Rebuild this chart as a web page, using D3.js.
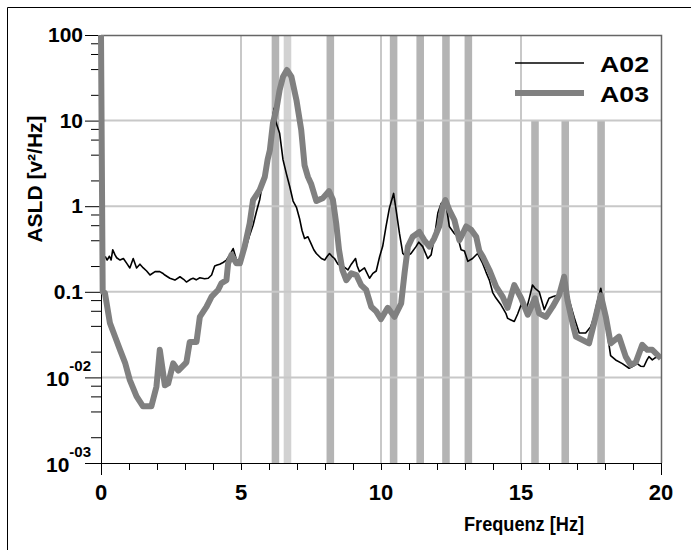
<!DOCTYPE html>
<html>
<head>
<meta charset="utf-8">
<script src="https://cdn.jsdelivr.net/npm/d3@7"></script>
<style>
  body { margin: 0; background: #fff; }
  text { font-family: "Liberation Sans", Arial, sans-serif; font-weight: bold; fill: #000; }
</style>
</head>
<body>
<svg width="691" height="550"></svg>
<script>
// A02 (thin black)
var freqA02 = [0.15,0.22,0.3,0.36,0.42,0.5,0.56,0.68,0.8,0.92,1.03,1.15,1.27,1.39,1.51,1.63,1.75,1.93,2.1,2.2,2.28,2.46,2.64,2.82,2.95,3.05,3.2,3.29,3.4,3.53,3.7,3.83,3.95,4.06,4.15,4.24,4.36,4.48,4.6,4.72,4.84,4.96,5.07,5.18,5.3,5.43,5.55,5.67,5.75,5.85,5.97,6.08,6.18,6.26,6.38,6.5,6.62,6.74,6.86,6.98,7.09,7.18,7.27,7.39,7.51,7.6,7.69,7.87,7.99,8.08,8.16,8.25,8.34,8.46,8.64,8.82,8.94,9.09,9.15,9.23,9.41,9.59,9.71,9.83,9.95,10.06,10.18,10.3,10.45,10.54,10.66,10.78,10.9,11.07,11.25,11.35,11.49,11.67,11.79,11.91,12.03,12.15,12.3,12.44,12.62,12.74,12.86,12.98,13.1,13.27,13.45,13.63,13.75,13.87,13.99,14.1,14.29,14.46,14.52,14.76,14.88,15.0,15.1,15.18,15.3,15.41,15.5,15.65,15.83,16.0,16.15,16.3,16.42,16.54,16.62,16.72,16.9,17.08,17.31,17.49,17.6,17.72,17.85,17.95,18.03,18.1,18.2,18.38,18.62,18.86,19.0,19.15,19.27,19.39,19.5,19.57,19.69,19.8,19.93,20.0];
var valA02 = [0.26,0.235,0.26,0.235,0.31,0.27,0.25,0.235,0.245,0.215,0.19,0.245,0.19,0.21,0.19,0.175,0.157,0.172,0.172,0.165,0.157,0.144,0.137,0.15,0.14,0.13,0.14,0.144,0.138,0.146,0.142,0.144,0.157,0.2,0.205,0.21,0.22,0.235,0.27,0.32,0.235,0.24,0.257,0.33,0.45,0.6,0.86,1.2,1.7,2.6,4.1,7.8,13.9,9.3,7.1,3.5,2.4,1.7,1.15,0.97,0.72,0.52,0.42,0.44,0.36,0.31,0.28,0.245,0.235,0.26,0.28,0.26,0.245,0.21,0.2,0.18,0.21,0.245,0.2,0.172,0.19,0.144,0.164,0.175,0.257,0.34,0.58,0.95,1.41,0.9,0.48,0.28,0.257,0.28,0.337,0.38,0.337,0.245,0.27,0.44,0.83,1.08,1.18,0.58,0.48,0.44,0.31,0.3,0.227,0.245,0.28,0.215,0.17,0.137,0.098,0.085,0.07,0.056,0.049,0.045,0.055,0.07,0.065,0.06,0.085,0.12,0.11,0.1,0.062,0.084,0.088,0.091,0.1,0.137,0.1,0.08,0.05,0.033,0.033,0.039,0.05,0.075,0.11,0.075,0.051,0.03,0.018,0.016,0.0145,0.0128,0.0135,0.0145,0.0135,0.0134,0.016,0.0175,0.016,0.017,0.0175,0.017];

// A03 (thick grey)
var freqA03 = [0,0.06,0.14,0.32,0.5,0.68,0.86,1.03,1.27,1.5,1.8,1.98,2.1,2.28,2.4,2.58,2.76,3.05,3.17,3.41,3.53,3.77,3.95,4.18,4.3,4.48,4.54,4.66,4.84,4.96,5.13,5.31,5.43,5.67,5.85,5.95,6.03,6.14,6.26,6.38,6.5,6.64,6.8,6.98,7.15,7.27,7.39,7.51,7.69,7.93,8.14,8.28,8.4,8.5,8.62,8.76,8.94,9.12,9.29,9.47,9.65,9.83,10.0,10.24,10.48,10.72,10.84,10.96,11.13,11.37,11.55,11.73,11.9,12.08,12.2,12.3,12.44,12.62,12.8,12.92,13.04,13.22,13.4,13.51,13.63,13.87,14.11,14.34,14.52,14.76,15.0,15.24,15.5,15.65,15.89,16.13,16.36,16.54,16.66,16.84,16.96,17.43,17.61,17.85,18.03,18.2,18.5,18.74,18.92,19.1,19.33,19.51,19.69,20.0];
var valA03 = [100,0.1,0.097,0.043,0.03,0.021,0.0148,0.0093,0.006,0.0046,0.0046,0.0078,0.021,0.0081,0.0085,0.0146,0.012,0.015,0.026,0.026,0.051,0.067,0.088,0.105,0.126,0.137,0.215,0.27,0.215,0.215,0.337,0.63,1.18,1.55,2.2,3.5,4.5,9.3,13.3,22.7,32.6,39,32.6,17.4,7.8,3.0,2.2,1.8,1.15,1.25,1.5,1.2,0.63,0.31,0.18,0.137,0.164,0.157,0.12,0.105,0.067,0.059,0.048,0.065,0.051,0.073,0.164,0.337,0.44,0.5,0.4,0.337,0.42,0.58,0.99,1.18,0.9,0.69,0.4,0.48,0.58,0.53,0.44,0.3,0.26,0.18,0.115,0.088,0.065,0.12,0.085,0.054,0.084,0.056,0.051,0.067,0.091,0.15,0.08,0.043,0.03,0.025,0.043,0.091,0.051,0.025,0.03,0.0175,0.014,0.015,0.024,0.021,0.021,0.0167];

// marked frequencies (vertical bands)
var bandFreqs = [6.23, 6.66, 8.19, 10.45, 11.4, 12.32, 13.12, 15.5, 16.58, 17.86];
var bandLight = [false, true, false, false, false, false, false, false, false, false];
var bandFromTen = [false, false, false, false, false, false, false, true, true, true];
var bandWidth = 0.27;

var xMajor = [0, 5, 10, 15, 20];
var yMajor = [100, 10, 1, 0.1, 0.01, 0.001];
var yLabels = [["100", ""], ["10", ""], ["1", ""], ["0.1", ""], ["10", "-02"], ["10", "-03"]];

var svg = d3.select("svg");
var pLeft = 101, pRight = 661, pTop = 35, pBottom = 463;

var x = d3.scaleLinear().domain([0, 20]).range([pLeft, pRight]);
var y = d3.scaleLog().domain([0.001, 100]).range([pBottom, pTop]);

// outer frame (only top/left visible)
svg.append("line").attr("x1", 7.5).attr("x2", 691).attr("y1", 7.5).attr("y2", 7.5).attr("stroke", "#000");
svg.append("line").attr("x1", 7.5).attr("x2", 7.5).attr("y1", 7.5).attr("y2", 550).attr("stroke", "#000");

svg.append("defs").append("clipPath").attr("id", "plot")
  .append("rect").attr("x", pLeft - 6).attr("y", pTop).attr("width", pRight - pLeft + 6).attr("height", pBottom - pTop);

// bands
svg.append("g").selectAll("rect")
  .data(bandFreqs)
  .enter().append("rect")
    .attr("x", function(d) { return x(d - bandWidth / 2); })
    .attr("width", function(d) { return x(d + bandWidth / 2) - x(d - bandWidth / 2); })
    .attr("y", function(d, i) { return bandFromTen[i] ? y(10) : pTop; })
    .attr("height", function(d, i) { return pBottom - (bandFromTen[i] ? y(10) : pTop); })
    .attr("fill", function(d, i) { return bandLight[i] ? "#d2d2d2" : "#b4b4b4"; });

// grid
var grid = svg.append("g").attr("stroke", "#c8c8c8").attr("stroke-width", 2);
grid.selectAll(".gx").data([5, 10, 15]).enter().append("line")
  .attr("x1", function(d) { return x(d); }).attr("x2", function(d) { return x(d); })
  .attr("y1", pTop).attr("y2", pBottom);
grid.selectAll(".gy").data([10, 1, 0.1, 0.01]).enter().append("line")
  .attr("y1", function(d) { return y(d); }).attr("y2", function(d) { return y(d); })
  .attr("x1", pLeft).attr("x2", pRight);

// plot border top/right
svg.append("path")
  .attr("d", "M" + pLeft + "," + (pTop + 0.5) + "H" + (pRight + 0.5) + "V" + pBottom)
  .attr("fill", "none").attr("stroke", "#666").attr("stroke-width", 1.5);

// x axis
var xMinor = d3.range(0, 21).filter(function(d) { return d % 20 !== 0; });
svg.append("g")
  .attr("transform", "translate(0," + pBottom + ")")
  .call(d3.axisBottom(x).tickValues(xMinor).tickSize(7).tickFormat("").tickSizeOuter(0))
  .call(function(a) { a.select(".domain").remove(); a.selectAll("line").attr("stroke", "#000"); });
svg.append("g")
  .attr("transform", "translate(0," + pBottom + ")")
  .call(d3.axisBottom(x).tickValues([0, 20]).tickSize(12).tickFormat("").tickSizeOuter(0))
  .call(function(a) { a.select(".domain").attr("stroke", "#000"); a.selectAll("line").attr("stroke", "#000"); });
svg.append("g").selectAll("text")
  .data(xMajor)
  .enter().append("text")
    .attr("x", function(d) { return x(d); })
    .attr("y", 500)
    .attr("text-anchor", "middle")
    .style("font-size", "22px")
    .text(function(d) { return d; });

// y axis
var yMinor = [];
[0.001, 0.01, 0.1, 1, 10].forEach(function(dec) {
  [2, 4, 6, 8].forEach(function(m) { yMinor.push(dec * m); });
});
svg.append("g")
  .attr("transform", "translate(" + pLeft + ",0)")
  .call(d3.axisLeft(y).tickValues(yMinor).tickSize(10).tickFormat("").tickSizeOuter(0))
  .call(function(a) { a.select(".domain").remove(); a.selectAll("line").attr("stroke", "#000"); });
svg.append("g")
  .attr("transform", "translate(" + pLeft + ",0)")
  .call(d3.axisLeft(y).tickValues(yMajor).tickSize(16).tickFormat("").tickSizeOuter(0))
  .call(function(a) { a.select(".domain").attr("stroke", "#000"); a.selectAll("line").attr("stroke", "#000"); });

// lines (grey A03 over black A02)
var line = d3.line()
  .x(function(d) { return x(d[0]); })
  .y(function(d) { return y(d[1]); });

var g = svg.append("g").attr("clip-path", "url(#plot)");
g.append("path")
  .datum(d3.zip(freqA02, valA02))
  .attr("d", line)
  .attr("fill", "none").attr("stroke", "#000").attr("stroke-width", 1.6).attr("stroke-linejoin", "round");
g.append("path")
  .datum(d3.zip(freqA03, valA03))
  .attr("d", line)
  .attr("fill", "none").attr("stroke", "#808080").attr("stroke-width", 6).attr("stroke-linejoin", "round");

var yl = svg.append("g").selectAll("text")
  .data(yMajor)
  .enter().append("text")
    .attr("y", function(d, i) { return y(d) + (yLabels[i][1] ? 9 : 7); })
    .attr("x", function(d, i) { return yLabels[i][1] ? 46 : 83; })
    .attr("text-anchor", function(d, i) { return yLabels[i][1] ? "start" : "end"; })
    .style("font-size", "21px");
yl.append("tspan").text(function(d, i) { return yLabels[i][0]; });
yl.append("tspan")
  .attr("dy", -15)
  .style("font-size", "15px")
  .text(function(d, i) { return yLabels[i][1]; });

// axis titles
svg.append("text")
  .attr("transform", "translate(42,179) rotate(-90)")
  .attr("text-anchor", "middle")
  .style("font-size", "21px")
  .text("ASLD [v²/Hz]");
svg.append("text")
  .attr("x", 524).attr("y", 531)
  .attr("text-anchor", "middle")
  .style("font-size", "20px")
  .attr("textLength", 120)
  .attr("lengthAdjust", "spacingAndGlyphs")
  .text("Frequenz [Hz]");

// legend
var legend = svg.append("g");
legend.append("line").attr("x1", 515).attr("x2", 584).attr("y1", 63).attr("y2", 63)
  .attr("stroke", "#000").attr("stroke-width", 1.6);
legend.append("line").attr("x1", 515).attr("x2", 584).attr("y1", 93).attr("y2", 93)
  .attr("stroke", "#808080").attr("stroke-width", 6);
legend.selectAll("text")
  .data(["A02", "A03"])
  .enter().append("text")
    .attr("x", 600)
    .attr("y", function(d, i) { return 72 + i * 30; })
    .style("font-size", "22px")
    .attr("textLength", 49)
    .attr("lengthAdjust", "spacingAndGlyphs")
    .text(function(d) { return d; });
</script>
</body>
</html>
